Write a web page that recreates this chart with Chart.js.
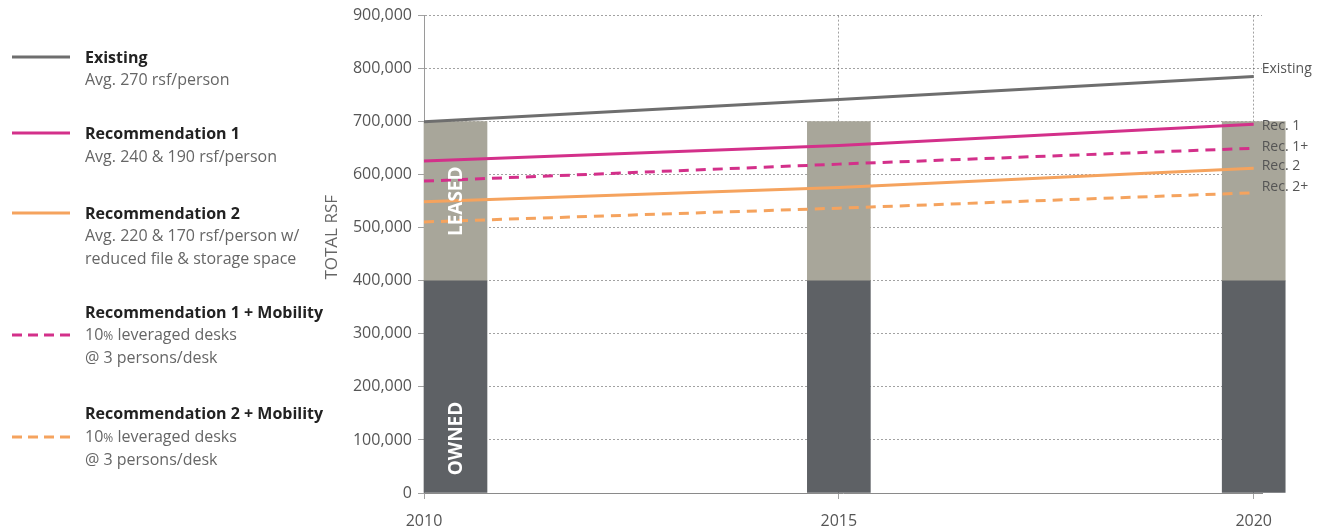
<!DOCTYPE html>
<html><head><meta charset="utf-8">
<script src="https://cdn.jsdelivr.net/npm/chart.js@4/dist/chart.umd.min.js"></script>
<style>
html,body{margin:0;padding:0;background:#fff;}
#wrap{position:relative;width:1322px;height:531px;overflow:hidden;}
#c{position:absolute;left:0;top:0;}
#legend{position:absolute;left:0;top:0;width:320px;height:531px;font-family:"Open Sans",sans-serif;}
#legend svg{position:absolute;left:0;top:0;}
.t{position:absolute;left:85px;font-weight:700;font-size:16px;line-height:22px;color:#222;white-space:nowrap;}
.s{position:absolute;left:85px;font-size:16px;line-height:23px;color:#666;white-space:nowrap;}
</style></head>
<body>
<div id="wrap">
<canvas id="c" width="1322" height="531"></canvas>
<div id="legend"></div>
</div>
<script>
// ---- data ----
const years = [2010, 2015, 2020];
const owned = [400000, 400000, 400000];
const leased = [300000, 300000, 300000];
const existing = [700000, 742000, 785000];
const rec1 = [626000, 655000, 695000];
const rec1Mobility = [588000, 620000, 650000];
const rec2 = [549000, 576000, 612000];
const rec2Mobility = [511000, 537000, 566000];
const seriesNames = ["Existing", "Recommendation 1", "Recommendation 2", "Recommendation 1 + Mobility", "Recommendation 2 + Mobility"];
const seriesNotes = [["Avg. 270 rsf/person"], ["Avg. 240 & 190 rsf/person"], ["Avg. 220 & 170 rsf/person w/", "reduced file & storage space"], ["10% leveraged desks", "@ 3 persons/desk"], ["10% leveraged desks", "@ 3 persons/desk"]];
const endLabels = ["Existing", "Rec. 1", "Rec. 1+", "Rec. 2", "Rec. 2+"];
const barLabels = ["OWNED", "LEASED"];
const yTitle = "TOTAL RSF";

// ---- styles ----
const GREY = "#6e6e6e", MAG = "#d3308a", ORA = "#f5a35e";
const lineSeries = [
  {values: existing, color: GREY, dash: [], label: endLabels[0], dy: -8},
  {values: rec1, color: MAG, dash: [], label: endLabels[1], dy: 2},
  {values: rec1Mobility, color: MAG, dash: [10, 7], label: endLabels[2], dy: -1},
  {values: rec2, color: ORA, dash: [], label: endLabels[3], dy: -2},
  {values: rec2Mobility, color: ORA, dash: [10, 7], label: endLabels[4], dy: -6}
];

const datasets = lineSeries.map((s, k) => ({
  type: 'line',
  label: s.label,
  data: years.map((x, i) => ({x, y: s.values[i]})),
  borderColor: s.color,
  borderWidth: 3,
  borderDash: s.dash,
  pointRadius: 0,
  tension: 0,
  fill: false,
  clip: false,
  order: 1,
  endDy: s.dy
}));
datasets.push({
  type: 'bar', label: barLabels[0],
  data: years.map((x, i) => ({x, y: [0, owned[i]]})),
  backgroundColor: "#5e6165", barThickness: 63, grouped: false, clip: false, order: 10, inLabel: barLabels[0]
});
datasets.push({
  type: 'bar', label: barLabels[1],
  data: years.map((x, i) => ({x, y: [owned[i], owned[i] + leased[i]]})),
  backgroundColor: "#a8a69a", barThickness: 63, grouped: false, clip: false, order: 10, inLabel: barLabels[1]
});

// first bar starts at the axis instead of being centred on it
const shiftFirstBar = {
  id: 'shiftFirstBar',
  afterDatasetsUpdate(chart) {
    chart.data.datasets.forEach((ds, i) => {
      if (ds.type !== 'bar') return;
      const el = chart.getDatasetMeta(i).data[0];
      if (el) el.x = el.x + el.width / 2;
    });
  }
};

const FONT = '"Open Sans", sans-serif';
const textPlugin = {
  id: 'textPlugin',
  afterDatasetsDraw(chart) {
    const ctx = chart.ctx;
    ctx.save();
    chart.data.datasets.forEach((ds, i) => {
      const meta = chart.getDatasetMeta(i);
      if (ds.type === 'line') {
        const p = meta.data[meta.data.length - 1];
        ctx.font = '14px ' + FONT;
        ctx.fillStyle = '#555';
        ctx.textAlign = 'left';
        ctx.textBaseline = 'middle';
        ctx.fillText(ds.label, p.x + 8, p.y + ds.endDy);
      } else if (ds.inLabel) {
        const el = meta.data[0];
        const top = Math.min(el.y, el.base), bot = Math.max(el.y, el.base);
        const cy = ds.inLabel === 'OWNED' ? bot - 54 : (top + bot) / 2;
        ctx.save();
        ctx.translate(el.x, cy);
        ctx.rotate(-Math.PI / 2);
        ctx.font = 'bold 19px ' + FONT;
        ctx.fillStyle = '#ffffff';
        ctx.textAlign = 'center';
        ctx.textBaseline = 'middle';
        ctx.fillText(ds.inLabel, 0, 1);
        ctx.restore();
      }
    });
    // y axis title
    const ys = chart.scales.y, ca = chart.chartArea;
    ctx.save();
    ctx.translate(ys.left + 10, (ca.top + ca.bottom) / 2 - 17);
    ctx.rotate(-Math.PI / 2);
    ctx.font = '17px ' + FONT;
    ctx.fillStyle = '#666';
    ctx.textAlign = 'center';
    ctx.textBaseline = 'middle';
    ctx.fillText(yTitle, 0, 0);
    ctx.restore();
    ctx.restore();
  }
};

new Chart(document.getElementById('c'), {
  type: 'line',
  data: {datasets},
  plugins: [shiftFirstBar, textPlugin],
  options: {
    responsive: false,
    animation: false,
    events: [],
    layout: {padding: {left: 322, right: 60, top: 4, bottom: 0}},
    plugins: {legend: {display: false}, tooltip: {enabled: false}},
    scales: {
      x: {
        type: 'linear', min: years[0], max: years[years.length - 1] + 0.1,
        offset: false,
        z: 1,
        afterBuildTicks(s) { s.ticks = years.map(v => ({value: v})); },
        afterFit(s) { s.height = 38; },
        ticks: {font: {family: FONT, size: 16}, color: '#555', padding: 13, maxRotation: 0, callback: v => String(v)},
        grid: {offset: false, color: 'rgba(70,70,70,0.5)', tickLength: 6, lineWidth: 1},
        border: {color: '#8a8a8a', display: true, dash: [2, 2]}
      },
      y: {
        min: 0, max: 900000,
        z: 1,
        afterFit(s) { s.width = 102; },
        ticks: {stepSize: 100000, font: {family: FONT, size: 16}, color: '#555', padding: 6,
          callback: v => v.toLocaleString('en-US')},
        grid: {color: 'rgba(70,70,70,0.5)', tickLength: 6, lineWidth: 1},
        border: {color: '#9a9a9a', display: true, dash: [2, 2]}
      }
    }
  },
});

// ---- legend (HTML) ----
const legendStyles = [
  {color: GREY, dash: "", lineY: 57, titleY: 57, subY: 80},
  {color: MAG, dash: "", lineY: 133, titleY: 133, subY: 157},
  {color: ORA, dash: "", lineY: 213, titleY: 213, subY: 236},
  {color: MAG, dash: "10 6", lineY: 335, titleY: 312, subY: 335},
  {color: ORA, dash: "10 6", lineY: 437, titleY: 413, subY: 437}
];
const leg = document.getElementById('legend');
let svg = '<svg width="80" height="531">';
legendStyles.forEach(st => {
  svg += `<line x1="12" x2="70" y1="${st.lineY}" y2="${st.lineY}" stroke="${st.color}" stroke-width="3" ${st.dash ? `stroke-dasharray="${st.dash}"` : ''}/>`;
});
svg += '</svg>';
let html = svg;
seriesNames.forEach((name, i) => {
  const st = legendStyles[i];
  html += `<div class="t" style="top:${st.titleY - 11}px">${name}</div>`;
  seriesNotes[i].forEach((n, j) => {
    html += `<div class="s" style="top:${st.subY - 12 + j * 23}px">${n.replace('%', '<span style="font-size:12px">%</span>')}</div>`;
  });
});
leg.innerHTML = html;
</script>
</body></html>
